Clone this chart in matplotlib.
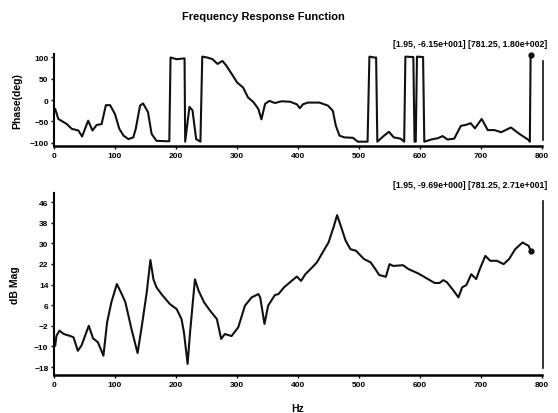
import matplotlib.pyplot as plt
import numpy as np

# phase trace (Hz, deg)
phase_hz = [2, 7, 14, 21, 29, 40, 46, 56, 63, 70, 78, 85, 92, 100, 107, 114, 122, 130, 134, 141,
            146, 154, 160, 168, 185, 189, 191, 201, 214, 215, 222, 227, 233, 240, 243, 251, 260, 268,
            276, 282, 293, 300, 310, 318, 327, 335, 340, 346, 353, 362, 373, 387, 398, 403, 408, 416,
            435, 449, 457, 462, 468, 476, 490, 498, 514, 517, 525, 528, 530, 541, 549, 557, 568, 574,
            576, 589, 591, 593, 595, 605, 607, 612, 618, 629, 637, 645, 656, 667, 675, 683, 690, 701,
            711, 722, 733, 749, 763, 777, 780, 781.25]
phase_deg = [-21, -44, -50, -56, -67, -71, -85, -48, -71, -58, -56, -12, -12, -33, -67, -83, -91, -87, -67, -13,
             -8, -28, -79, -95, -96, -96, 99, 95, 97, -97, -16, -24, -91, -97, 101, 99, 95, 84,
             91, 81, 57, 41, 29, 6, -5, -21, -45, -9, -2, -7, -3, -4, -10, -19, -10, -6,
             -6, -13, -25, -60, -83, -87, -88, -97, -97, 101, 99, 99, -97, -83, -74, -87, -90, -97,
             101, 100, -97, -97, 101, 100, -97, -95, -92, -89, -84, -92, -90, -60, -58, -54, -66, -44,
             -70, -70, -75, -64, -79, -92, -97, 104]

# magnitude trace (Hz, dB)
mag_hz = [1.95, 4, 9, 16, 27, 32, 39, 45, 57, 64, 72, 81, 87, 94, 103, 111, 117, 127, 137, 144, 152,
          158, 163, 168, 176, 190, 201, 209, 213, 219, 223, 231, 237, 246, 256, 267, 274, 280, 291,
          302, 313, 324, 335, 338, 345, 351, 362, 368, 377, 388, 398, 405, 412, 423, 431, 442, 450,
          459, 464, 470, 478, 486, 495, 508, 519, 527, 533, 544, 550, 556, 572, 581, 597, 613, 624,
          632, 638, 644, 655, 663, 669, 676, 684, 692, 698, 707, 715, 726, 737, 746, 756, 768, 778, 781.25]
mag_db = [-9.7, -5.9, -3.9, -5.2, -6, -6.5, -11.7, -9.7, -2, -6.9, -8.4, -13.6, -0.7, 7.1, 14.2, 10.3, 7.1, -3.3, -12.6, -2, 11,
          23.5, 16, 12.9, 10.3, 6.4, 4.5, 0.6, -4.6, -16.8, -4.6, 16, 11.6, 7.1, 3.8, 0.6, -7.1, -5.2, -6,
          -2.6, 5.8, 9, 10.3, 9, -1.3, 5.8, 9.9, 10.3, 12.9, 15.1, 17.1, 15.4, 18, 20.6, 22.6, 27.1, 30.3,
          36.8, 40.9, 36.8, 31, 27.7, 27.1, 23.9, 22.6, 19.9, 17.7, 17, 21.9, 21.2, 21.5, 20, 18.3, 16.1, 14.6,
          14.6, 15.7, 14.9, 11.6, 9, 12.9, 13.8, 18, 16.1, 20, 25.1, 23.2, 23.2, 21.9, 23.9, 27.7, 30.3, 29, 27.1]

x_ticks = [0, 100, 200, 300, 400, 500, 600, 700, 800]
phase_ticks = [-100, -50, 0, 50, 100]
mag_ticks = [-18, -10, -2, 6, 14, 22, 30, 38, 46]
cursor_hz = 802

plt.rcParams['font.family'] = 'Liberation Sans'
plt.rcParams['font.weight'] = 'bold'

fig = plt.figure(figsize=(5.58, 4.14), dpi=100)
ax1 = fig.add_axes([0.0968, 0.645, 0.8746, 0.222])
ax2 = fig.add_axes([0.0968, 0.0918, 0.8746, 0.4396])

lc = '#111111'

ax1.plot(phase_hz, phase_deg, color=lc, lw=1.5, clip_on=False)
ax1.plot(phase_hz[-1], phase_deg[-1], 'o', color=lc, ms=3.5, clip_on=False)
ax1.plot([cursor_hz, cursor_hz], [-92, 91], color=lc, lw=1.2, clip_on=False)
ax1.set_ylim(-107, 107)
ax1.set_yticks(phase_ticks)
ax1.set_ylabel('Phase(deg)', fontsize=7.5, fontweight='bold', labelpad=5)

ax2.plot(mag_hz, mag_db, color=lc, lw=1.5)
ax2.plot(mag_hz[-1], mag_db[-1], 'o', color=lc, ms=3.5)
ax2.plot([cursor_hz, cursor_hz], [-18.5, 46.5], color=lc, lw=1.2, clip_on=False)
ax2.set_ylim(-21.1, 49.5)
ax2.set_yticks(mag_ticks)
ax2.set_ylabel('dB Mag', fontsize=7.5, fontweight='bold', labelpad=10)
ax2.set_xlabel('Hz', fontsize=7.5, fontweight='bold', labelpad=11)

for ax in (ax1, ax2):
    ax.set_xlim(0, 800)
    ax.set_xticks(x_ticks)
    ax.spines['top'].set_visible(False)
    ax.spines['right'].set_visible(False)
    ax.spines['left'].set_linewidth(1.5)
    ax.spines['bottom'].set_linewidth(1.8)
    ax.tick_params(labelsize=6, length=2, width=1, pad=2)
    for lab in ax.get_xticklabels() + ax.get_yticklabels():
        lab.set_fontweight('bold')

fig.text(0.473, 0.958, 'Frequency Response Function', ha='center', va='center',
         fontsize=8, fontweight='bold')
fig.text(0.98, 0.893, '[1.95, -6.15e+001] [781.25, 1.80e+002]', ha='right', va='center',
         fontsize=6.3, fontweight='bold')
fig.text(0.98, 0.553, '[1.95, -9.69e+000] [781.25, 2.71e+001]', ha='right', va='center',
         fontsize=6.3, fontweight='bold')

fig.savefig('out.png', dpi=100)
